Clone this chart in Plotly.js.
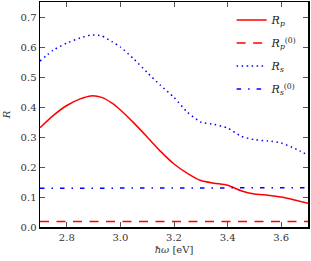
<!DOCTYPE html>
<html>
<head>
<meta charset="utf-8">
<script src="https://cdn.plot.ly/plotly-3.0.1.min.js"></script>
<style>html,body{margin:0;padding:0;background:#fff;}#chart{width:311px;height:261px;}</style>
</head>
<body>
<div id="chart"></div>
<script>
// photon energy (eV)
const energy = [2.70, 2.75, 2.80, 2.85, 2.89, 2.93, 2.97, 3.00, 3.05, 3.10, 3.15, 3.20, 3.25, 3.30, 3.35, 3.40, 3.45, 3.50, 3.55, 3.60, 3.65, 3.70];
const Rp  = [0.331, 0.372, 0.405, 0.427, 0.437, 0.432, 0.412, 0.390, 0.347, 0.300, 0.252, 0.210, 0.179, 0.155, 0.146, 0.139, 0.121, 0.110, 0.106, 0.100, 0.090, 0.079];
const Rs  = [0.553, 0.590, 0.613, 0.630, 0.640, 0.637, 0.617, 0.600, 0.560, 0.515, 0.472, 0.432, 0.383, 0.350, 0.342, 0.330, 0.303, 0.291, 0.287, 0.280, 0.262, 0.240];
const energy0 = [2.70, 3.20, 3.70];
const Rp0 = [0.018, 0.018, 0.018];
const Rs0 = [0.129, 0.130, 0.131];
const xTicks = [2.8, 3.0, 3.2, 3.4, 3.6];
const yTicks = [0.0, 0.1, 0.2, 0.3, 0.4, 0.5, 0.6, 0.7];

const seriesNames = ['<i>R</i><sub><i>p</i></sub>', '<i>R</i><sub><i>p</i></sub><sup>(0)</sup>', '<i>R</i><sub><i>s</i></sub>', '<i>R</i><sub><i>s</i></sub><sup>(0)</sup>'];

const traces = [
  {x: energy, y: Rp, name: seriesNames[0], legendgroup: 'a', mode: 'lines', line: {color: '#ff0000', width: 1.5, shape: 'spline', smoothing: 0.6}},
  {x: energy0, y: Rp0, name: seriesNames[1], legendgroup: 'b', mode: 'lines', line: {color: '#ff0000', width: 1.5, dash: '9px,7.5px'}},
  {x: energy, y: Rs, name: seriesNames[2], legendgroup: 'c', mode: 'lines', line: {color: '#0000ff', width: 1.5, dash: '1.5px,3.5px', shape: 'spline', smoothing: 0.6}},
  {x: energy0, y: Rs0, name: seriesNames[3], legendgroup: 'd', mode: 'lines', line: {color: '#0000ff', width: 1.5, dash: '4.5px,7px,1.5px,7px'}}
];

function mkFont(sz, col) { return {family: 'DejaVu Serif', size: sz, color: col}; }

const layout = {
  width: 311, height: 261,
  margin: {l: 40, r: 3, t: 2, b: 34},
  paper_bgcolor: '#fff', plot_bgcolor: '#fff',
  font: mkFont(10, '#333'),
  showlegend: true,
  legend: {x: 0.715, y: 0.985, xanchor: 'left', yanchor: 'top', bgcolor: 'rgba(0,0,0,0)', borderwidth: 0,
           font: mkFont(11, '#222'), tracegroupgap: 4},
  xaxis: {range: [2.7, 3.7], tickvals: xTicks, ticktext: xTicks.map(v => v.toFixed(1)),
          tickfont: mkFont(10, '#333'),
          ticks: 'inside', ticklen: 5, tickwidth: 1, tickcolor: '#555', mirror: 'allticks',
          showline: true, linecolor: '#000', linewidth: 1.5, showgrid: false, zeroline: false,
          title: {text: '<i>ħω</i> [eV]', font: mkFont(10, '#333'), standoff: 4}},
  yaxis: {range: [0, 0.75], tickvals: yTicks, ticktext: yTicks.map(v => v.toFixed(1)),
          tickfont: mkFont(10, '#333'),
          ticks: 'inside', ticklen: 5, tickwidth: 1, tickcolor: '#555', mirror: 'allticks',
          showline: true, linecolor: '#000', linewidth: 1.5, showgrid: false, zeroline: false,
          title: {text: '<i>R</i>', font: mkFont(10, '#333'), standoff: 8}}
};

Plotly.newPlot('chart', traces, layout, {staticPlot: true, displayModeBar: false});
</script>
</body>
</html>
